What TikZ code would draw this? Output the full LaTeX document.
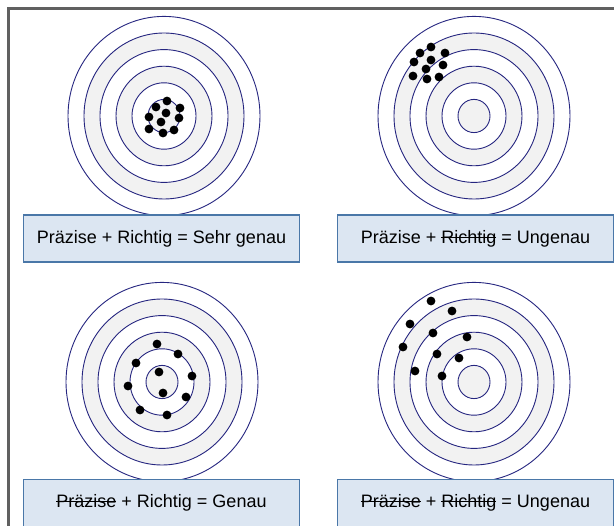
\documentclass[tikz,border=0pt]{standalone}
\usepackage{fontspec}
\setmainfont{Liberation Sans}
\definecolor{ringblue}{HTML}{262680}
\definecolor{ringgray}{HTML}{F2F2F2}
\definecolor{boxfill}{HTML}{DCE6F2}
\definecolor{boxline}{HTML}{4A77A8}
\definecolor{framegray}{HTML}{606060}
\newsavebox{\strikebox}
\newcommand{\struck}[1]{\sbox{\strikebox}{#1}%
  \rlap{\rule[0.3em]{\wd\strikebox}{1pt}}\usebox{\strikebox}}

\begin{document}
\begin{tikzpicture}[x=1pt, y=-1pt,
  tagbox/.style={draw=boxline, line width=1.5pt, fill=boxfill,
                 minimum width=276pt, minimum height=47pt, inner sep=0pt,
                 font=\fontsize{18}{22}\selectfont},
  ring/.style={draw=ringblue, line width=0.9pt},
  hit/.style={fill=black}
]
  \useasboundingbox (0,0) rectangle (614,526);
  \clip (0,0) rectangle (614,526);

  % outer frame, cut off at right and bottom
  \draw[framegray, line width=2.5pt] (8.5,540) -- (8.5,8.5) -- (630,8.5);

  % target centres
  \coordinate (c1) at (164,116);
  \coordinate (c2) at (474,116);
  \coordinate (c3) at (162,382);
  \coordinate (c4) at (474,382);

  \foreach \c in {c1,c2,c3,c4}
    \foreach \k/\col in {6/white,5/ringgray,4/white,3/ringgray,2/white,1/ringgray}
      \draw[ring, fill=\col] (\c) ellipse [x radius=16*\k, y radius=16.6*\k];

  % hits
  \foreach \p in {(167,101),(156,107),(180,108),(166,113),(149,117),
                  (179,118),(161,122),(149,129),(163,133),(174,130)}
    \fill[hit] \p circle (4.4);
  \foreach \p in {(431,47),(420,53),(445,53),(414,62),(431,60),
                  (443,65),(426,69),(413,76),(427,79),(439,77)}
    \fill[hit] \p circle (4.4);
  \foreach \p in {(157,344),(178,354),(136,363),(159,372),(192,376),
                  (128,386),(163,393),(186,397),(140,410),(167,415)}
    \fill[hit] \p circle (4.4);
  \foreach \p in {(431,301),(452,311),(410,324),(433,333),(467,337),
                  (403,347),(437,354),(459,358),(415,371),(442,376)}
    \fill[hit] \p circle (4.4);

  % captions
  \node[tagbox] (lab1) at (161.5,238.5) {Präzise + Richtig = Sehr genau};
  \node[tagbox] (lab2) at (475.5,238.5) {Präzise + \struck{Richtig} = Ungenau};
  \node[tagbox] (lab3) at (161.5,503) {\struck{Präzise} + Richtig = Genau};
  \node[tagbox] (lab4) at (475.5,503) {\struck{Präzise} + \struck{Richtig} = Ungenau};
\end{tikzpicture}
\end{document}
